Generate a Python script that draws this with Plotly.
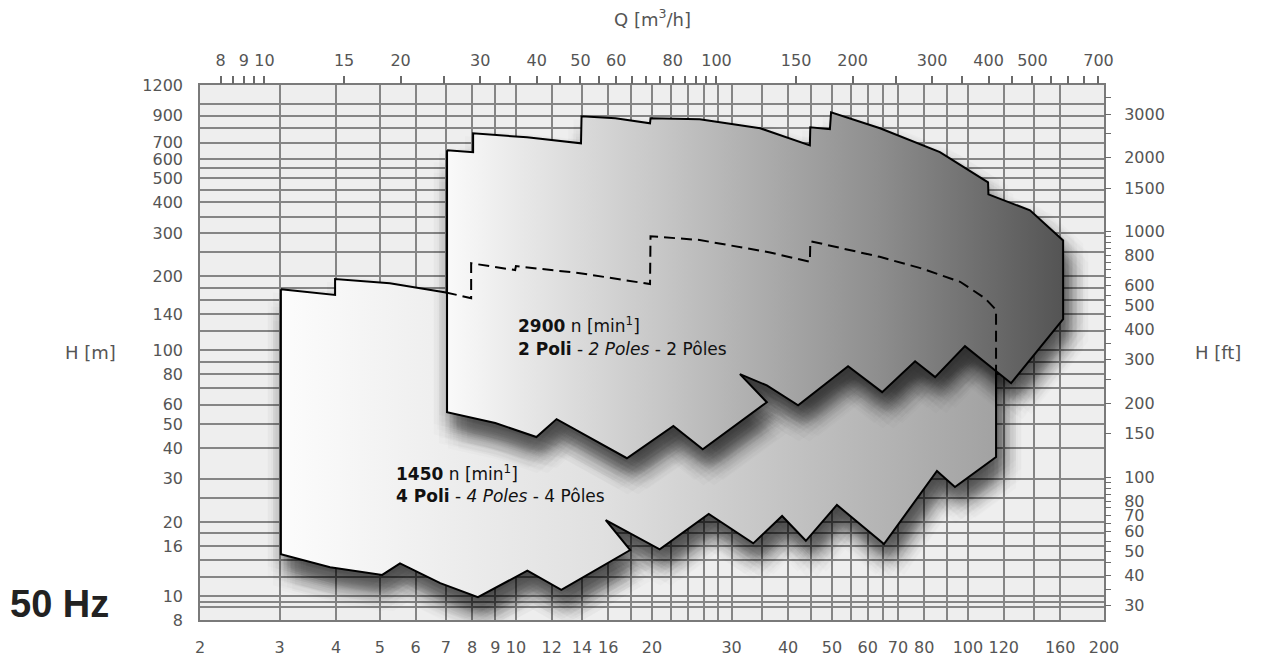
import math
import plotly.graph_objects as go

# ---------------- data ----------------
# Bottom axis: Q [l/s], left axis: H [m]
# 1450 rpm (4 poles) envelope, clockwise from top-left
Q_4POLE = [3.02, 3.98, 3.98, 5.26, 7.0, 7.96, 7.96, 9.96, 10.0, 13.86, 19.8, 19.85, 25.5, 36.5, 44.7, 44.8,
           63.8, 78.5, 96.1, 109, 115.4, 115.4, 93.6, 85.4, 65.2, 51.3, 43.8, 38.8, 33.5, 26.7, 20.8,
           15.8, 17.9, 12.6, 10.6, 8.24, 6.8, 5.54, 5.06, 3.88, 3.02]
H_4POLE = [177, 168, 195, 187.5, 172, 163, 226, 212, 220, 206, 186, 291, 281, 250, 229, 278,
           240, 216, 190, 163, 146, 36.8, 27.8, 32.3, 16.3, 23.5, 16.8, 21.2, 16.4, 21.6, 15.5,
           20.4, 15.4, 10.6, 12.7, 9.9, 11.3, 13.6, 12.2, 13.1, 14.8]
HIDDEN_FROM = 4   # index where the 4-pole top edge passes behind the 2-pole envelope
HIDDEN_TO = 20    # last top-edge vertex (top of the right edge)

# 2900 rpm (2 poles) envelope, clockwise from top-left
Q_2POLE = [7.04, 8.04, 8.04, 10.58, 13.93, 13.97, 16.6, 19.8, 19.85, 25.5, 34.7, 44.7, 44.8, 49.5, 49.8,
           63.9, 86.7, 110.8, 111.0, 137.2, 162.4, 162.4, 124.6, 98.5, 84.6, 76.4, 64.6, 54.3, 42.1,
           35.9, 31.3, 35.9, 25.9, 22.3, 17.6, 12.3, 11.1, 9.0, 7.04]
H_2POLE = [651, 639, 764, 735, 695, 895, 878, 838, 878, 870, 800, 682, 807, 793, 929,
           800, 640, 482, 431, 371, 280, 134, 73.5, 104, 77.8, 90.3, 67.6, 86.2, 59.8,
           72, 80, 61.5, 39.6, 49.2, 36.4, 52.5, 44.4, 50.6, 56]

# axes
Q_RANGE = [2, 200]            # l/s
H_RANGE = [8, 1200]           # m
M3H_PER_LS = 3.6
FT_PER_M = 3.28084

X_GRID = [2, 3, 4, 5, 6, 7, 8, 9, 10, 12, 14, 16, 18, 20, 22, 24, 26, 28, 30, 35, 40, 45, 50, 55, 60,
          65, 70, 80, 90, 100, 120, 140, 160, 200]
X_LABELS = [2, 3, 4, 5, 6, 7, 8, 9, 10, 12, 14, 16, 20, 30, 40, 50, 60, 70, 80, 100, 120, 160, 200]
Y_GRID = [8, 9, 9.5, 10, 12, 14, 16, 18, 20, 25, 30, 40, 50, 60, 70, 80, 90, 100, 120, 140, 160, 180,
          200, 250, 300, 350, 400, 450, 500, 550, 600, 700, 800, 900, 1000, 1200]
Y_LABELS = [8, 10, 16, 20, 30, 40, 50, 60, 80, 100, 140, 200, 300, 400, 500, 600, 700, 900, 1200]
TOP_TICKS = [8, 8.5, 9, 9.5, 10, 15, 20, 25, 30, 35, 40, 45, 50, 55, 60, 65, 70, 75, 80, 85, 90, 95, 100,
             150, 200, 250, 300, 350, 400, 450, 500, 550, 600, 650, 700]
TOP_LABELS = [8, 9, 10, 15, 20, 30, 40, 50, 60, 80, 100, 150, 200, 300, 400, 500, 700]
FT_TICKS = [3500, 3000, 2500, 2000, 1500, 1000, 950, 900, 850, 800, 750, 700, 650, 600, 550, 500, 450,
            400, 350, 300, 250, 200, 150, 100, 95, 90, 85, 80, 75, 70, 65, 60, 55, 50, 45, 40, 35, 30]
FT_LABELS = [3000, 2000, 1500, 1000, 800, 600, 500, 400, 300, 200, 150, 100, 80, 70, 60, 50, 40, 30]

# ---------------- geometry / style ----------------
FIG_W, FIG_H = 1266, 658
M_L, M_R, M_T, M_B = 200, 162, 85, 38
PLOT_W = FIG_W - M_L - M_R
PLOT_H = FIG_H - M_T - M_B
PX_DEC_X = PLOT_W / (math.log10(Q_RANGE[1]) - math.log10(Q_RANGE[0]))
PX_DEC_Y = PLOT_H / (math.log10(H_RANGE[1]) - math.log10(H_RANGE[0]))

FONT = "DejaVu Sans"
TICK_COLOR = "#555555"
GRID_COLOR = "#858585"


def fmt(v):
    return str(int(v)) if float(v).is_integer() else str(v)


def labels(vals, shown):
    return [fmt(v) if v in shown else "" for v in vals]


def shifted(qs, hs, dx, dy):
    fx = 10 ** (dx / PX_DEC_X)
    fy = 10 ** (-dy / PX_DEC_Y)
    return [q * fx for q in qs], [h * fy for h in hs]


def add_shadow(fig, qs, hs, center=(6, 17), radii=(0, 4, 8, 12, 16, 20), ndir=12, alpha=0.017):
    for r in radii:
        ks = [0] if r == 0 else range(ndir)
        for k in ks:
            a = 2 * math.pi * (k + 0.5 * (r // 4 % 2)) / ndir
            xs, ys = shifted(qs, hs, center[0] + r * math.cos(a), center[1] + r * math.sin(a))
            fig.add_trace(go.Scatter(
                x=xs, y=ys, mode="lines", fill="toself",
                line=dict(width=0, color="rgba(0,0,0,0)"),
                fillcolor=f"rgba(0,0,0,{alpha})", hoverinfo="skip", showlegend=False))


def add_envelope(fig, qs, hs, colorscale):
    fig.add_trace(go.Scatter(
        x=qs + qs[:1], y=hs + hs[:1], mode="lines", fill="toself",
        fillgradient=dict(type="horizontal", colorscale=colorscale),
        line=dict(color="black", width=2), hoverinfo="skip", showlegend=False))


def crossing_h(q, qs, hs):
    """H where the lower boundary of polygon (qs, hs) crosses Q=q (log interpolation)."""
    lq = math.log10(q)
    for i in range(len(qs) - 1, 0, -1):
        a, b = math.log10(qs[i]), math.log10(qs[i - 1])
        if min(a, b) <= lq <= max(a, b) and a != b and hs[i] < 150 and hs[i - 1] < 150:
            t = (lq - a) / (b - a)
            return 10 ** (math.log10(hs[i]) + t * (math.log10(hs[i - 1]) - math.log10(hs[i])))
    return hs[0]


fig = go.Figure()

# 4 poles
add_shadow(fig, Q_4POLE, H_4POLE)
add_envelope(fig, Q_4POLE, H_4POLE, [[0, "#fcfcfc"], [0.45, "#e0e0e0"], [1, "#a2a2a2"]])

# 2 poles
add_shadow(fig, Q_2POLE, H_2POLE)
add_envelope(fig, Q_2POLE, H_2POLE, [[0, "#fafafa"], [0.35, "#c6c6c6"], [0.7, "#8e8e8e"], [1, "#545454"]])

# hidden part of the 4-pole envelope, dashed
hq = Q_4POLE[HIDDEN_FROM:HIDDEN_TO + 1]
hh = H_4POLE[HIDDEN_FROM:HIDDEN_TO + 1]
hq = hq + [hq[-1]]
hh = hh + [crossing_h(hq[-1], Q_2POLE, H_2POLE)]
fig.add_trace(go.Scatter(x=hq, y=hh, mode="lines", line=dict(color="black", width=2, dash="11px,6px"),
                         hoverinfo="skip", showlegend=False))

# helper trace for secondary axes
fig.add_trace(go.Scatter(x=[20], y=[100], xaxis="x2", yaxis="y2", mode="markers",
                         marker=dict(opacity=0), hoverinfo="skip", showlegend=False))

tickfont = dict(family=FONT, size=16, color=TICK_COLOR)
fig.update_layout(
    width=FIG_W, height=FIG_H,
    margin=dict(l=M_L, r=M_R, t=M_T, b=M_B, autoexpand=False),
    paper_bgcolor="white", plot_bgcolor="#eeeeee",
    showlegend=False,
    xaxis=dict(type="log", range=[math.log10(v) for v in Q_RANGE], automargin=False,
               tickmode="array", tickvals=X_GRID, ticktext=labels(X_GRID, X_LABELS),
               showgrid=True, gridcolor=GRID_COLOR, gridwidth=1.5, zeroline=False,
               showline=True, mirror=True, linecolor="#7a7a7a", linewidth=1.5,
               ticks="", ticklabelstandoff=12, tickfont=tickfont),
    yaxis=dict(type="log", range=[math.log10(v) for v in H_RANGE], automargin=False,
               tickmode="array", tickvals=Y_GRID, ticktext=labels(Y_GRID, Y_LABELS),
               showgrid=True, gridcolor=GRID_COLOR, gridwidth=1.5, zeroline=False,
               showline=True, mirror=True, linecolor="#7a7a7a", linewidth=1.5,
               ticks="", ticklabelstandoff=12, tickfont=tickfont),
    xaxis2=dict(type="log", overlaying="x", side="top", anchor="y", automargin=False,
                range=[math.log10(v * M3H_PER_LS) for v in Q_RANGE],
                tickmode="array", tickvals=TOP_TICKS, ticktext=labels(TOP_TICKS, TOP_LABELS),
                showgrid=False, zeroline=False, showline=False,
                ticks="outside", ticklen=8, tickwidth=1.5, tickcolor="#6a6a6a",
                ticklabelstandoff=4, tickfont=tickfont),
    yaxis2=dict(type="log", overlaying="y", side="right", anchor="x", automargin=False,
                range=[math.log10(v * FT_PER_M) for v in H_RANGE],
                tickmode="array", tickvals=FT_TICKS, ticktext=labels(FT_TICKS, FT_LABELS),
                showgrid=False, zeroline=False, showline=False,
                ticks="outside", ticklen=6, tickwidth=1.2, tickcolor="#6a6a6a",
                ticklabelstandoff=10, tickfont=tickfont),
)


def px_to_paper(px, py):
    return (px - M_L) / PLOT_W, (FIG_H - M_B - py) / PLOT_H


def add_text(text, px, py, size, xanchor="left", color="#111111", family=FONT):
    x, y = px_to_paper(px, py)
    fig.add_annotation(xref="paper", yref="paper", x=x, y=y, text=text, showarrow=False,
                       xanchor=xanchor, yanchor="middle", align="left",
                       font=dict(family=family, size=size, color=color))


add_text("Q [m<sup>3</sup>/h]", 652, 18, 18, xanchor="center", color=TICK_COLOR)
add_text("H [m]", 90, 352, 18, xanchor="center", color=TICK_COLOR)
add_text("H [ft]", 1218, 352, 18, xanchor="center", color=TICK_COLOR)
add_text("<b>50 Hz</b>", 8, 604, 38, color="#222222", family="Liberation Sans")

add_text("<b>2900</b> n [min<sup>1</sup>]", 516, 325, 17)
add_text("<b>2 Poli</b> - <i>2 Poles</i> - 2 Pôles", 516, 349, 17)
add_text("<b>1450</b> n [min<sup>1</sup>]", 394, 473, 17)
add_text("<b>4 Poli</b> - <i>4 Poles</i> - 4 Pôles", 394, 496, 17)

fig.write_html("out.html")
